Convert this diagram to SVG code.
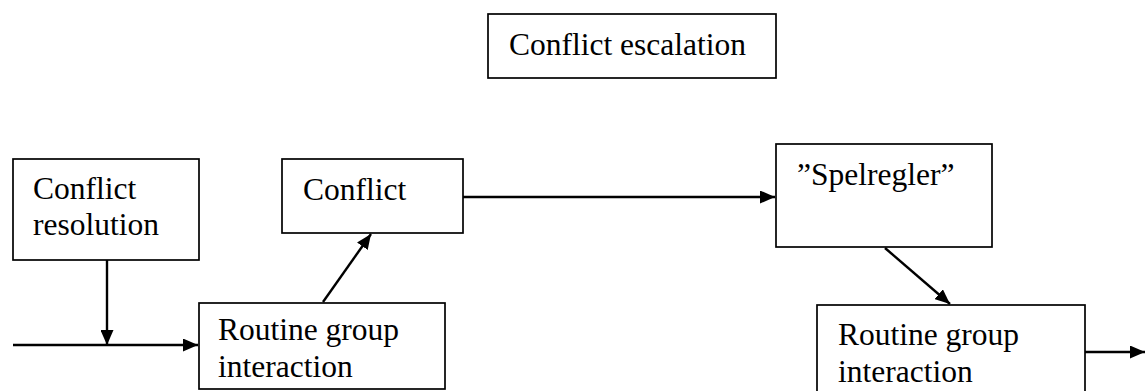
<svg xmlns="http://www.w3.org/2000/svg" width="1145" height="391" viewBox="0 0 1145 391">
  <style>
    .box { fill: #fff; stroke: #000; stroke-width: 1.7; }
    .lbl { font-family: "Liberation Serif", "Times New Roman", serif; font-size: 31.5px; fill: #000; }
    .edge { fill: none; stroke: #000; stroke-width: 2.4; }
  </style>
  <defs>
    <marker id="arrow" viewBox="0 0 15 13" refX="15" refY="6.5" markerWidth="15" markerHeight="13" markerUnits="userSpaceOnUse" orient="auto">
      <path d="M0,0 L15,6.5 L0,13 z" fill="#000"/>
    </marker>
  </defs>

  <g id="node-escalation">
    <rect class="box" x="488" y="14" width="288" height="64"/>
    <text class="lbl" x="509" y="55">Conflict escalation</text>
  </g>

  <g id="node-resolution">
    <rect class="box" x="13" y="159" width="186" height="101"/>
    <text class="lbl" x="33" y="199">Conflict</text>
    <text class="lbl" x="33" y="235">resolution</text>
  </g>

  <g id="node-conflict">
    <rect class="box" x="282" y="159" width="181" height="74"/>
    <text class="lbl" x="303" y="200">Conflict</text>
  </g>

  <g id="node-spelregler">
    <rect class="box" x="776" y="144" width="216" height="103"/>
    <text class="lbl" x="797" y="185">”Spelregler”</text>
  </g>

  <g id="node-routine-1">
    <rect class="box" x="199" y="303" width="246" height="86"/>
    <text class="lbl" x="218" y="340">Routine group</text>
    <text class="lbl" x="218" y="377">interaction</text>
  </g>

  <g id="node-routine-2">
    <rect class="box" x="817" y="305" width="268" height="92"/>
    <text class="lbl" x="838" y="345">Routine group</text>
    <text class="lbl" x="838" y="382">interaction</text>
  </g>

  <g id="connectors">
    <line class="edge" x1="13" y1="345" x2="198" y2="345" marker-end="url(#arrow)"/>
    <line class="edge" x1="107" y1="260" x2="107" y2="345" marker-end="url(#arrow)"/>
    <line class="edge" x1="323" y1="302" x2="371" y2="234" marker-end="url(#arrow)"/>
    <line class="edge" x1="463" y1="197" x2="775" y2="197" marker-end="url(#arrow)"/>
    <line class="edge" x1="885" y1="248" x2="950" y2="304" marker-end="url(#arrow)"/>
    <line class="edge" x1="1085" y1="352" x2="1145" y2="352" marker-end="url(#arrow)"/>
  </g>
</svg>
